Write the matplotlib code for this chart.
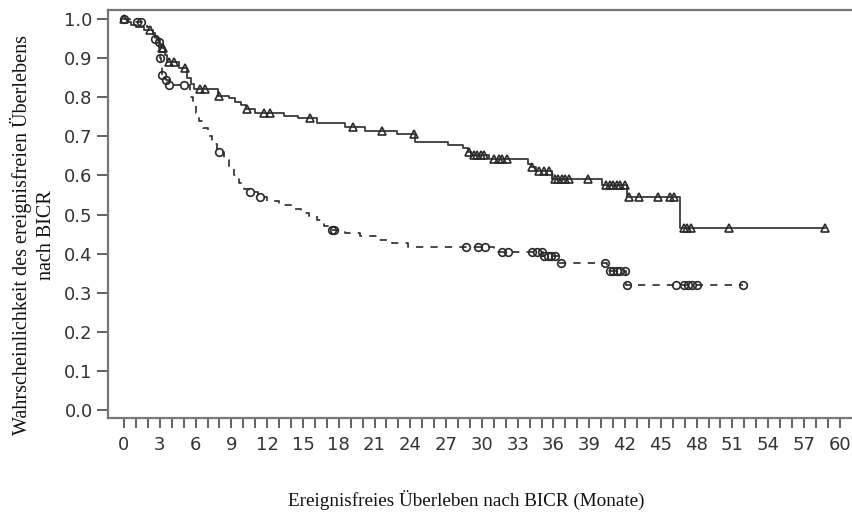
import numpy as np
import matplotlib
matplotlib.use("Agg")
import matplotlib.pyplot as plt

# ---- data ----
# Treatment arm (solid line, triangles): event times and survival after each event
trt_event_t = [0.3, 0.6, 1.0, 1.7, 2.4, 2.6, 2.8, 3.0, 3.2, 3.4, 3.6, 4.6, 5.3, 5.6, 5.9,
               7.9, 8.8, 9.3, 9.8, 10.2, 11.0, 13.4, 14.6, 16.2, 18.5, 20.2, 22.9, 24.4,
               27.2, 28.4, 28.8, 29.1, 30.6, 33.9, 34.1, 34.5, 35.9, 40.1, 42.2, 46.6]
trt_event_s = [0.993, 0.985, 0.980, 0.972, 0.962, 0.955, 0.946, 0.937, 0.925, 0.908, 0.890,
               0.874, 0.850, 0.835, 0.820, 0.804, 0.797, 0.789, 0.780, 0.770, 0.760, 0.753,
               0.746, 0.735, 0.725, 0.714, 0.706, 0.686, 0.678, 0.669, 0.660, 0.652, 0.643,
               0.630, 0.622, 0.610, 0.592, 0.575, 0.546, 0.465]
trt_censor_t = [0.0, 2.2, 3.2, 3.3, 3.8, 4.2, 5.1, 6.4, 6.8, 8.0, 10.3, 11.7, 12.2, 15.6,
                19.2, 21.6, 24.3, 28.9, 29.3, 29.6, 29.9, 30.2, 31.0, 31.4, 31.7, 32.1, 34.2,
                34.8, 35.2, 35.6, 36.1, 36.4, 36.7, 37.0, 37.3, 38.9, 40.4, 40.7, 41.0, 41.3,
                41.6, 42.0, 42.3, 43.2, 44.8, 45.8, 46.1, 46.9, 47.2, 47.5, 50.7, 58.8]

# Control arm (dashed line, circles)
ctl_event_t = [0.5, 1.9, 2.3, 2.6, 2.8, 2.95, 3.0, 3.1, 3.2, 3.5, 3.8, 5.5, 5.8, 6.0, 6.3,
               6.6, 7.0, 7.4, 7.8, 8.4, 8.8, 9.2, 9.6, 10.1, 10.5, 11.2, 12.0, 13.0, 14.0,
               14.8, 15.5, 16.2, 16.8, 17.2, 18.5, 19.8, 21.2, 22.5, 23.8, 31.0, 35.1, 36.4,
               40.5, 42.1]
ctl_event_s = [0.993, 0.980, 0.965, 0.950, 0.940, 0.925, 0.900, 0.880, 0.857, 0.844, 0.831,
               0.800, 0.780, 0.760, 0.740, 0.720, 0.700, 0.680, 0.660, 0.640, 0.620, 0.600,
               0.580, 0.565, 0.558, 0.545, 0.535, 0.525, 0.515, 0.505, 0.495, 0.485, 0.470,
               0.460, 0.452, 0.444, 0.435, 0.428, 0.418, 0.405, 0.394, 0.377, 0.355, 0.320]
ctl_censor_t = [0.0, 1.1, 1.4, 2.6, 2.9, 3.0, 3.2, 3.5, 3.8, 5.0, 8.0, 10.6, 11.4, 17.4,
                17.6, 28.7, 29.7, 30.3, 31.7, 32.2, 34.2, 34.6, 35.0, 35.2, 35.5, 35.8, 36.1,
                36.6, 40.3, 40.7, 41.0, 41.3, 41.6, 42.0, 42.2, 46.3, 46.9, 47.3, 47.6, 48.0,
                51.9]

x_ticks = list(range(0, 61, 3))
y_ticks = [0.0, 0.1, 0.2, 0.3, 0.4, 0.5, 0.6, 0.7, 0.8, 0.9, 1.0]
x_label = "Ereignisfreies Überleben nach BICR (Monate)"
y_label = "Wahrscheinlichkeit des ereignisfreien Überlebens\nnach BICR"


def step_curve(ev_t, ev_s, end_t):
    t = np.concatenate([[0.0], ev_t, [end_t]])
    s = np.concatenate([[1.0], ev_s, [ev_s[-1]]])
    return t, s


def surv_at(ev_t, ev_s, times):
    ev_t = np.asarray(ev_t)
    ev_s = np.asarray(ev_s)
    idx = np.searchsorted(ev_t, np.asarray(times), side="right")
    vals = np.concatenate([[1.0], ev_s])
    return vals[idx]


fig = plt.figure(figsize=(8.53, 5.15), dpi=100)
ax = fig.add_axes([108 / 853, 1 - 418 / 515, 1 - 108 / 853 + 0.01, (418 - 10) / 515])

line_col = "#3a3a3a"
mk_col = "#2a2a2a"

t, s = step_curve(trt_event_t, trt_event_s, max(trt_censor_t))
ax.step(t, s, where="post", color=line_col, lw=1.3)
ax.plot(trt_censor_t, surv_at(trt_event_t, trt_event_s, trt_censor_t), ls="none",
        marker="^", ms=5.5, mfc="none", mec=mk_col, mew=1.2)

t, s = step_curve(ctl_event_t, ctl_event_s, max(ctl_censor_t))
ln, = ax.step(t, s, where="post", color=line_col, lw=1.3)
ln.set_dashes([4, 4])
ax.plot(ctl_censor_t, surv_at(ctl_event_t, ctl_event_s, ctl_censor_t), ls="none",
        marker="o", ms=5.5, mfc="none", mec=mk_col, mew=1.2)

x0 = (108 - 124) / 11.93
x1 = x0 + (853 * (1 - 108 / 853 + 0.01)) / 11.93
ax.set_xlim(x0, x1)
ax.set_ylim((410 - 418) / 391, (410 - 10) / 391)

ax.set_xticks(x_ticks)
ax.set_xticks(range(0, 61), minor=True)
ax.set_yticks(y_ticks)
ax.set_yticklabels([f"{v:.1f}" for v in y_ticks])

for sp in ["left", "bottom", "top"]:
    ax.spines[sp].set_color("#777777")
    ax.spines[sp].set_linewidth(1.6)
ax.spines["right"].set_visible(False)

ax.tick_params(axis="x", which="both", direction="out", length=7, width=1.3,
               color="#555555", labelsize=13, labelcolor="#333333", pad=6)
ax.tick_params(axis="y", which="major", direction="out", length=8, width=1.3,
               color="#555555", labelsize=13, labelcolor="#333333", pad=3)

fig.text(466 / 853, 1 - 500 / 515, x_label, ha="center", va="center",
         family="Liberation Serif", fontsize=13.8, color="#111111")
fig.text(33 / 853, 1 - 235 / 515, y_label, ha="center", va="center", rotation=90,
         family="Liberation Serif", fontsize=14.5, color="#111111", linespacing=1.3,
         multialignment="center")

fig.savefig("out.png", dpi=100)
